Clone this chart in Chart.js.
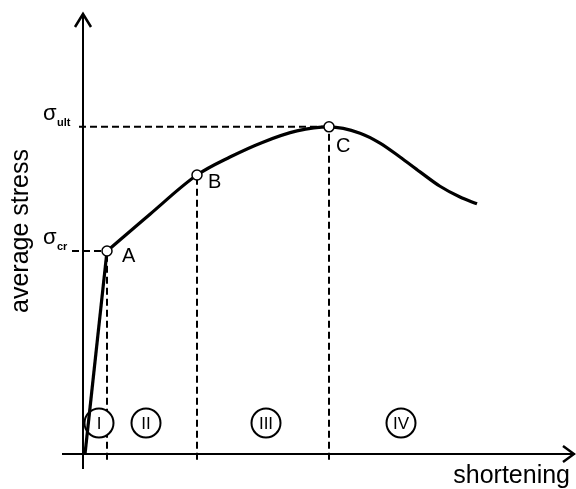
<!DOCTYPE html>
<html>
<head>
<meta charset="utf-8">
<script src="https://cdn.jsdelivr.net/npm/chart.js@4.4.1/dist/chart.umd.min.js"></script>
<style>
  html, body { margin: 0; padding: 0; background: #fff; }
  #wrap { width: 576px; height: 489px; }
</style>
</head>
<body>
<div id="wrap"><canvas id="stressChart" width="576" height="489"></canvas></div>
<script>
  // load-shortening curve (arbitrary units)
  var shortening = [0.04, 0.48, 1.34, 2.28, 2.94, 3.6, 4.28, 4.92, 5.54, 5.94, 6.34, 6.74, 7.14, 7.54, 7.88];
  var stress     = [0,    4.51, 5.33, 6.2,  6.6,  6.93, 7.18, 7.27, 7.13, 6.91, 6.6,  6.27, 5.95, 5.71, 5.56];

  // characteristic points
  var pointNames = ['A', 'B', 'C'];
  var pointX = [0.48, 2.28, 4.92];
  var pointY = [4.51, 6.2, 7.27];

  // stress levels marked on the vertical axis
  var levelNames = [['\u03c3', 'cr'], ['\u03c3', 'ult']];
  var levelY = [4.51, 7.27];
  var levelStart = [-0.22, -0.08];

  // zones of behaviour
  var zoneNames = ['I', 'II', 'III', 'IV'];
  var zoneX = [0.32, 1.26, 3.66, 6.36];
  var zoneY = 0.69;

  var xTitle = 'shortening';
  var yTitle = 'average stress';
  var font = '"Liberation Sans", Arial, sans-serif';

  function toXY(xs, ys) {
    return xs.map(function (x, i) { return { x: x, y: ys[i] }; });
  }

  // straight elastic part up to A, then smooth curve from A on
  var elastic = toXY(shortening.slice(0, 2), stress.slice(0, 2));
  var postBuckling = toXY(shortening.slice(1), stress.slice(1));

  var dashStyle = { borderColor: '#000', borderWidth: 2, borderDash: [7, 4], pointRadius: 0, fill: false, order: 4 };
  var dashed = [];
  levelY.forEach(function (y, i) {
    var endX = i === 0 ? pointX[0] : pointX[2];
    dashed.push(Object.assign({ data: [{ x: levelStart[i], y: y }, { x: endX, y: y }] }, dashStyle));
  });
  pointX.forEach(function (x, i) {
    dashed.push(Object.assign({ data: [{ x: x, y: -0.13 }, { x: x, y: pointY[i] }] }, dashStyle));
  });

  var axesPlugin = {
    id: 'axesPlugin',
    beforeDatasetsDraw: function (chart) {
      var c = chart.ctx, xs = chart.scales.x, ys = chart.scales.y;
      var x0 = xs.getPixelForValue(0), y0 = ys.getPixelForValue(0);
      var xEnd = xs.getPixelForValue(xs.max), yTop = ys.getPixelForValue(ys.max);
      c.save();
      c.strokeStyle = '#000';
      c.lineWidth = 2;
      c.beginPath();
      c.moveTo(x0, ys.getPixelForValue(ys.min));
      c.lineTo(x0, yTop);
      c.moveTo(xs.getPixelForValue(xs.min), y0);
      c.lineTo(xEnd, y0);
      c.stroke();
      // arrow heads
      c.lineWidth = 2.5;
      c.beginPath();
      c.moveTo(x0 - 8, yTop + 14);
      c.lineTo(x0, yTop + 1);
      c.lineTo(x0 + 8, yTop + 14);
      c.moveTo(xEnd - 12, y0 - 8);
      c.lineTo(xEnd - 1, y0);
      c.lineTo(xEnd - 12, y0 + 8);
      c.stroke();
      c.restore();
    },
    afterDatasetsDraw: function (chart) {
      var c = chart.ctx, xs = chart.scales.x, ys = chart.scales.y;
      c.save();
      c.fillStyle = '#000';

      // zone numerals
      c.font = '17px ' + font;
      c.textAlign = 'center';
      c.textBaseline = 'middle';
      zoneNames.forEach(function (n, i) {
        c.fillText(n, xs.getPixelForValue(zoneX[i]), ys.getPixelForValue(zoneY) + 1);
      });

      // point letters
      var offs = [[15, 11], [11, 13], [7, 25]];
      c.font = '20px ' + font;
      c.textAlign = 'left';
      c.textBaseline = 'alphabetic';
      pointNames.forEach(function (n, i) {
        c.fillText(n, xs.getPixelForValue(pointX[i]) + offs[i][0], ys.getPixelForValue(pointY[i]) + offs[i][1]);
      });

      // sigma labels
      levelNames.forEach(function (n, i) {
        var py = ys.getPixelForValue(levelY[i]);
        c.font = '22px ' + font;
        c.fillText(n[0], 43, py - 7);
        c.font = 'bold 11px ' + font;
        c.fillText(n[1], 57, py - 1);
      });

      // axis titles
      c.font = '25px ' + font;
      c.textAlign = 'right';
      c.fillText(xTitle, 570, 483);
      c.translate(28, 231);
      c.rotate(-Math.PI / 2);
      c.textAlign = 'center';
      c.fillText(yTitle, 0, 0);
      c.restore();
    }
  };

  var ctx = document.getElementById('stressChart').getContext('2d');
  var chart = new Chart(ctx, {
    type: 'line',
    data: {
      datasets: [
        {
          data: toXY(pointX, pointY),
          showLine: false,
          pointRadius: 5,
          pointBackgroundColor: '#fff',
          pointBorderColor: '#000',
          pointBorderWidth: 1.5,
          order: 0
        },
        {
          data: elastic,
          borderColor: '#000',
          borderWidth: 3.2,
          pointRadius: 0,
          tension: 0,
          order: 1
        },
        {
          data: postBuckling,
          borderColor: '#000',
          borderWidth: 3.2,
          pointRadius: 0,
          cubicInterpolationMode: 'monotone',
          order: 1
        },
        {
          data: zoneX.map(function (x) { return { x: x, y: zoneY }; }),
          showLine: false,
          pointRadius: 14.5,
          pointBackgroundColor: '#fff',
          pointBorderColor: '#000',
          pointBorderWidth: 2,
          order: 2
        }
      ].concat(dashed)
    },
    options: {
      responsive: false,
      animation: false,
      devicePixelRatio: 1,
      layout: { autoPadding: false, padding: { left: 62, right: 1, top: 13, bottom: 20 } },
      plugins: { legend: { display: false }, tooltip: { enabled: false } },
      scales: {
        x: { type: 'linear', min: -0.42, max: 9.84, display: false },
        y: { type: 'linear', min: -0.333, max: 9.8, display: false }
      }
    },
    plugins: [axesPlugin]
  });
</script>
</body>
</html>
